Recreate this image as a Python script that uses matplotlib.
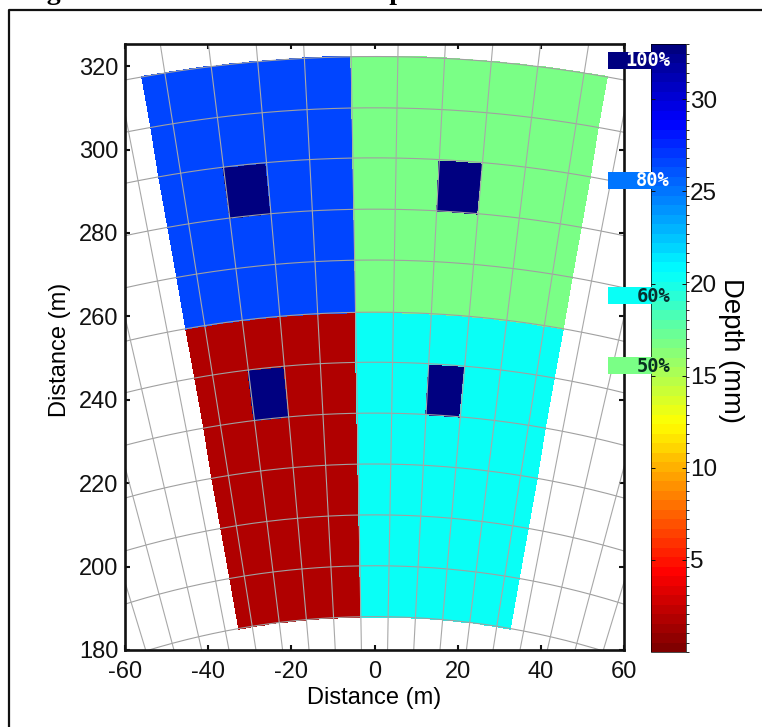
import numpy as np
import matplotlib
matplotlib.use("Agg")
import matplotlib.pyplot as plt
from matplotlib.colors import LinearSegmentedColormap, BoundaryNorm
from matplotlib.patches import Rectangle

plt.rcParams['font.family'] = ['Liberation Sans', 'DejaVu Sans']
plt.rcParams['axes.unicode_minus'] = False

W, H = 762, 727

# radar cells: range gates (m) and azimuths (deg from north)
rangos = [188, 200.2, 212.4, 224.6, 236.8, 249, 261, 273.5, 285.7, 298, 310, 322.3]
azimuts = [-10, -9, -7, -5, -3, -1, 1, 3, 5, 7, 9, 10]
arcos = [188, 200.2, 212.4, 224.6, 236.8, 249, 261, 273.5, 285.7, 298, 310, 322.3]
radiales = [-17, -15, -13, -11, -9, -7, -5, -3, -1, 1, 3, 5, 7, 9, 11, 13, 15, 17]

# depth (mm) of each quadrant, and the four 100% plots
depth_sup_izq = 26.4
depth_sup_der = 17.0
depth_inf_izq = 1.8
depth_inf_der = 20.2
depth_max = 33.0

# plots that get the full depth: (range index, azimuth index)
celdas_max = [(8, 2), (8, 7), (4, 2), (4, 7)]

etiquetas = ["100%", "80%", "60%", "50%"]
etiquetas_depth = [32.9, 25.0, 20.6, 16.5]
etiquetas_color = ["white", "white", "#083030", "#083020"]

xticks = [-60, -40, -20, 0, 20, 40, 60]
yticks = [180, 200, 220, 240, 260, 280, 300, 320]
cticks = [5, 10, 15, 20, 25, 30]

# matlab style jet, flipped
jet = LinearSegmentedColormap.from_list("jet_m", [
    (0.0, (0, 0, 0.5)), (0.125, (0, 0, 1)), (0.375, (0, 1, 1)),
    (0.625, (1, 1, 0)), (0.875, (1, 0, 0)), (1.0, (0.5, 0, 0))], N=256).reversed()
niveles = np.linspace(0, depth_max, 65)
norma = BoundaryNorm(niveles, 256)

fig = plt.figure(figsize=(W / 100, H / 100), dpi=100)
fondo = fig.add_axes([0, 0, 1, 1])
fondo.set_xlim(0, W)
fondo.set_ylim(H, 0)
fondo.axis("off")
# page frame, only left and top fall inside the crop
fondo.plot([9, 9, W], [H, 9.5, 9.5], color="#111111", lw=1.6)
fondo.text(21.5, -1, "Figure 5.  Prescribed Water Depths Given The", family="Liberation Serif",
           weight="bold", fontsize=20, va="baseline", ha="left", color="black")

ax = fig.add_axes([125 / W, 1 - 650 / H, (624 - 125) / W, (650 - 44) / H])


def celda(r1, r2, a1, a2, n=8):
    # cell outline as a small mesh so the arcs stay curved
    r = np.linspace(r1, r2, 2)
    a = np.radians(np.linspace(a1, a2, n))
    rr, aa = np.meshgrid(r, a)
    return rr * np.sin(aa), rr * np.cos(aa)


for i in range(len(rangos) - 1):
    for j in range(len(azimuts) - 1):
        if (i, j) in celdas_max:
            d = depth_max
        elif i >= 6:
            d = depth_sup_izq if j < 5 else depth_sup_der
        else:
            d = depth_inf_izq if j < 5 else depth_inf_der
        X, Y = celda(rangos[i], rangos[i + 1], azimuts[j], azimuts[j + 1])
        Z = np.full((X.shape[0] - 1, X.shape[1] - 1), d)
        ax.pcolormesh(X, Y, Z, cmap=jet, norm=norma, shading="flat", edgecolors="face", linewidth=0.3, zorder=1)

# range and azimuth grid on top
a = np.radians(np.linspace(-25, 25, 200))
for r in arcos:
    ax.plot(r * np.sin(a), r * np.cos(a), color="#a0a0a0", lw=0.8, zorder=2)
for az in radiales:
    t = np.radians(az)
    ax.plot([150 * np.sin(t), 360 * np.sin(t)], [150 * np.cos(t), 360 * np.cos(t)], color="#a8a8a8", lw=0.8, zorder=2)

ax.set_xlim(-60, 60)
ax.set_ylim(180, 325.3)
ax.set_xticks(xticks)
ax.set_yticks(yticks)
ax.tick_params(direction="in", length=3.6, width=1.5, labelsize=17, top=True, right=True, colors="#111111")
ax.tick_params(axis="x", pad=8)
ax.tick_params(axis="y", pad=4.5)
for s in ax.spines.values():
    s.set_linewidth(1.9)
    s.set_color("#111111")
ax.set_xlabel("Distance (m)", fontsize=17, labelpad=3)
fondo.set_zorder(3)
fondo.patch.set_alpha(0)
fondo.text(60, 350, "Distance (m)", fontsize=17, rotation=90, ha="center", va="center", color="black")

# colorbar
cax = fig.add_axes([651 / W, 1 - 652 / H, 35 / W, 608 / H])
sm = plt.cm.ScalarMappable(cmap=jet, norm=norma)
cb = fig.colorbar(sm, cax=cax, boundaries=niveles, spacing="proportional", drawedges=False)
cb.set_ticks(cticks)
cb.ax.tick_params(length=3, width=0.7, direction="in", labelsize=17.5, pad=3, left=True, right=True, colors="#111111")
cb.outline.set_linewidth(0.5)
fondo.text(731, 350, "Depth (mm)", fontsize=19.8, rotation=270, ha="center", va="center", color="black")

# percent tags next to the colorbar
tag_y = [60, 180, 295.5, 365.5]
for y, d in zip(tag_y, etiquetas_depth):
    fondo.add_patch(Rectangle((607.5, y - 8.5), 44, 17, fc=jet(norma(d)), ec="none", zorder=5))
for y, txt, c in zip(tag_y, etiquetas, etiquetas_color):
    fondo.text(670, y + 0.5, txt, family="DejaVu Sans Mono", weight="bold", fontsize=13.5, color=c, ha="right", va="center", zorder=6)

fig.savefig("out.png", dpi=100)
